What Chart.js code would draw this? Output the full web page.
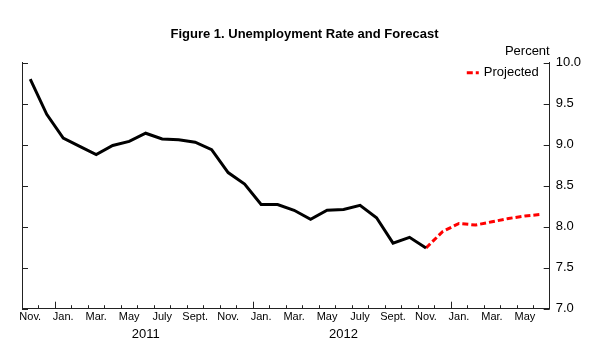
<!DOCTYPE html>
<html>
<head>
<meta charset="utf-8">
<script src="https://cdn.jsdelivr.net/npm/chart.js@4/dist/chart.umd.min.js"></script>
<style>
  html, body { margin: 0; padding: 0; background: #fff; }
  #wrap { width: 607px; height: 361px; }
</style>
</head>
<body>
<div id="wrap"><canvas id="chart" width="607" height="361"></canvas></div>
<script>
// months Nov. 2010 .. June 2013
const months = [
  "Nov.", "Dec.",
  "Jan.", "Feb.", "Mar.", "Apr.", "May", "June", "July", "Aug.", "Sept.", "Oct.", "Nov.", "Dec.",
  "Jan.", "Feb.", "Mar.", "Apr.", "May", "June", "July", "Aug.", "Sept.", "Oct.", "Nov.", "Dec.",
  "Jan.", "Feb.", "Mar.", "Apr.", "May", "June",
];
const years = [
  2010, 2010,
  2011, 2011, 2011, 2011, 2011, 2011, 2011, 2011, 2011, 2011, 2011, 2011,
  2012, 2012, 2012, 2012, 2012, 2012, 2012, 2012, 2012, 2012, 2012, 2012,
  2013, 2013, 2013, 2013, 2013, 2013,
];
const yearLabels = ["2011", "2012"];

// actual rate, Nov. 2010 .. Nov. 2012
const actual = [
  9.8, 9.37, 9.08, 8.98, 8.88, 8.99, 9.04, 9.14, 9.07, 9.06, 9.03, 8.94,
  8.66, 8.52, 8.27, 8.27, 8.2, 8.09, 8.2, 8.21, 8.26, 8.11, 7.8, 7.87, 7.74,
];
// projected, Nov. 2012 .. June 2013
const projected = [7.74, 7.94, 8.04, 8.02, 8.06, 8.1, 8.13, 8.15];

const yTicks = [7.0, 7.5, 8.0, 8.5, 9.0, 9.5, 10.0];

const actualData = months.map((m, i) => (i < actual.length ? actual[i] : null));
const projStart = actual.length - 1;
const projectedData = months.map((m, i) => {
  const k = i - projStart;
  return k >= 0 && k < projected.length ? projected[k] : null;
});

Chart.defaults.font.family = "'Liberation Sans', Arial, Helvetica, sans-serif";
Chart.defaults.color = "#000";

// inward tick marks on the axes
const tickMarks = {
  id: "tickMarks",
  afterDraw(chart) {
    const { ctx, chartArea } = chart;
    const x = chart.scales.x;
    const y = chart.scales.y;
    const step = x.getPixelForValue(1) - x.getPixelForValue(0);
    ctx.save();
    ctx.strokeStyle = "#222";
    ctx.lineWidth = 1;
    ctx.beginPath();
    for (let i = 1; i < months.length; i++) {
      const px = Math.round(x.getPixelForValue(i) - step / 2) + 0.5;
      const len = months[i] === "Jan." ? 7 : 3.5;
      ctx.moveTo(px, chartArea.bottom);
      ctx.lineTo(px, chartArea.bottom - len);
    }
    yTicks.forEach((v) => {
      const py = Math.round(y.getPixelForValue(v)) + 0.5;
      ctx.moveTo(chartArea.left, py);
      ctx.lineTo(chartArea.left + 6, py);
      ctx.moveTo(chartArea.right, py);
      ctx.lineTo(chartArea.right - 6, py);
    });
    ctx.stroke();
    ctx.restore();
  },
};

// "Projected" key in the upper right of the plot
const projKey = {
  id: "projKey",
  afterDraw(chart) {
    const { ctx, chartArea } = chart;
    const ds = chart.data.datasets[1];
    ctx.save();
    ctx.font = "13px 'Liberation Sans', Arial, sans-serif";
    ctx.fillStyle = "#000";
    ctx.textAlign = "right";
    ctx.textBaseline = "middle";
    const tx = chartArea.right - 11;
    const ty = chartArea.top + 10;
    ctx.fillText(ds.label, tx, ty);
    const w = ctx.measureText(ds.label).width;
    const lx = tx - w - 5;
    ctx.strokeStyle = ds.borderColor;
    ctx.lineWidth = ds.borderWidth;
    ctx.setLineDash(ds.borderDash);
    ctx.beginPath();
    ctx.moveTo(lx - 12, ty);
    ctx.lineTo(lx, ty);
    ctx.stroke();
    ctx.restore();
  },
};

const noGrid = { display: false, drawTicks: false };

new Chart(document.getElementById("chart").getContext("2d"), {
  type: "line",
  data: {
    labels: months,
    datasets: [
      {
        label: "Actual",
        data: actualData,
        borderColor: "#000",
        borderWidth: 3,
        pointRadius: 0,
        tension: 0,
        yAxisID: "y",
      },
      {
        label: "Projected",
        data: projectedData,
        borderColor: "#ff0000",
        borderWidth: 3,
        borderDash: [6, 3],
        pointRadius: 0,
        tension: 0,
        yAxisID: "y",
      },
    ],
  },
  options: {
    responsive: false,
    animation: false,
    layout: { padding: { left: 22, right: 20, top: 0, bottom: 17.5 } },
    scales: {
      x: {
        type: "category",
        offset: true,
        grid: noGrid,
        border: { display: true, color: "#222", width: 1 },
        ticks: {
          autoSkip: false,
          maxRotation: 0,
          padding: 2,
          font: { size: 11 },
          callback: (v, i) => (i % 2 === 0 ? months[i] : ""),
        },
      },
      x2: {
        type: "category",
        position: "bottom",
        weight: 1,
        offset: true,
        labels: months,
        grid: noGrid,
        border: { display: false },
        ticks: {
          autoSkip: false,
          maxRotation: 0,
          padding: 1,
          font: { size: 13 },
          callback: (v, i) => {
            const yr = String(years[i]);
            return months[i] === "June" && yearLabels.includes(yr) ? yr : "";
          },
        },
      },
      y: {
        position: "right",
        min: 7,
        max: 10,
        grid: noGrid,
        border: { display: true, color: "#222", width: 1 },
        afterBuildTicks: (s) => { s.ticks = yTicks.map((v) => ({ value: v })); },
        ticks: {
          padding: 6,
          font: { size: 13 },
          callback: (v) => Number(v).toFixed(1),
        },
      },
      yl: {
        position: "left",
        min: 7,
        max: 10,
        grid: noGrid,
        border: { display: true, color: "#222", width: 1 },
        ticks: { display: false },
      },
    },
    plugins: {
      legend: { display: false },
      tooltip: { enabled: false },
      title: {
        display: true,
        text: "Figure 1. Unemployment Rate and Forecast",
        font: { size: 13, weight: "bold" },
        color: "#000",
        padding: { top: 27, bottom: 1.5 },
      },
      subtitle: {
        display: true,
        text: "Percent",
        align: "end",
        fullSize: false,
        font: { size: 13 },
        color: "#000",
        padding: { top: 0, bottom: 3 },
      },
    },
  },
  plugins: [tickMarks, projKey],
});
</script>
</body>
</html>
